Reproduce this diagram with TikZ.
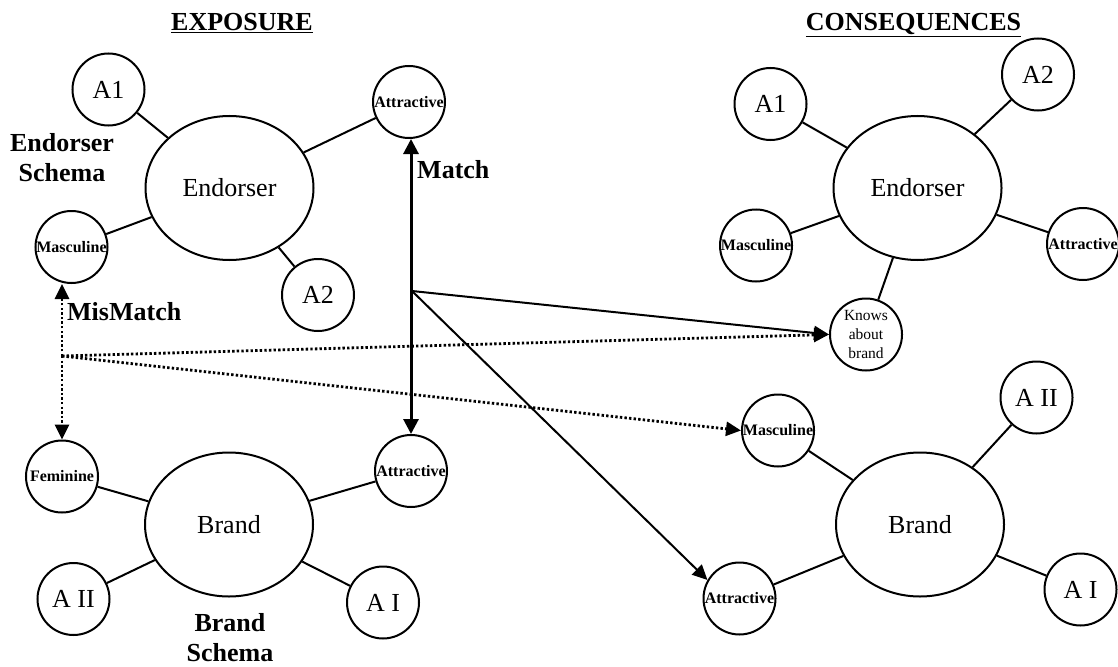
\documentclass[tikz,border=0pt]{standalone}
\usepackage{fontspec}
\setmainfont{Liberation Serif}
\usetikzlibrary{shapes.geometric,arrows.meta}
\begin{document}
\begin{tikzpicture}[x=1pt,y=-1pt,
  sat/.style={circle, draw, line width=2pt, minimum size=72pt, inner sep=0pt, font=\fontsize{26}{30}\selectfont},
  satsmall/.style={sat, font=\bfseries\fontsize{16}{18}\selectfont},
  knowsbox/.style={sat, align=center, font=\fontsize{15.5}{19}\selectfont},
  hub/.style={ellipse, draw, line width=2pt, minimum width=168pt, minimum height=144pt, inner sep=0pt, font=\fontsize{26}{30}\selectfont},
  link/.style={line width=2pt},
  tip/.style={-{Triangle[length=15pt,width=14pt]}},
  matcharrow/.style={line width=3pt, {Triangle[length=15pt,width=15pt]}-{Triangle[length=15pt,width=15pt]}},
  solidarrow/.style={line width=2pt, tip},
  dotarrow/.style={line width=2.8pt, dash pattern=on 2.4pt off 2.2pt, tip},
  heading/.style={font=\bfseries\fontsize{26}{30}\selectfont, anchor=base},
  schema/.style={font=\bfseries\fontsize{26}{30}\selectfont, align=center}
]
\useasboundingbox (0,0) rectangle (1118,666);

% titles
\node[heading] (t1) at (242,31) {\underline{EXPOSURE}};
\node[heading] (t2) at (913.5,31) {\underline{CONSEQUENCES}};

% left endorser schema
\node[hub] (end1) at (229.5,188) {Endorser};
\node[sat] (a1L) at (108.5,89.5) {A1};
\node[satsmall] (att1) at (409,102) {Attractive};
\node[satsmall] (masc1) at (71.5,247) {Masculine};
\node[sat] (a2L) at (318,295) {A2};
\draw[link] (end1) -- (a1L);
\draw[link] (end1) -- (att1);
\draw[link] (end1) -- (masc1);
\draw[link] (end1) -- (a2L);

% left brand schema
\node[hub] (brand1) at (229,524.5) {Brand};
\node[satsmall] (fem) at (62,476.5) {Feminine};
\node[satsmall] (att2) at (411,471) {Attractive};
\node[sat] (aiiL) at (73.5,599) {A II};
\node[sat] (aiL) at (383,602.5) {A I};
\draw[link] (brand1) -- (fem);
\draw[link] (brand1) -- (att2);
\draw[link] (brand1) -- (aiiL);
\draw[link] (brand1) -- (aiL);

% labels
\node[schema] (es) at (62,158) {Endorser\\Schema};
\node[schema] (bs) at (230,638) {Brand\\Schema};
\node[font=\bfseries\fontsize{26}{30}\selectfont, anchor=base west, inner sep=0pt] (match) at (417,178) {Match};
\node[font=\bfseries\fontsize{26}{30}\selectfont, anchor=base west, inner sep=0pt] (mism) at (67,320) {MisMatch};

% right endorser
\node[hub] (end2) at (917.5,188) {Endorser};
\node[sat] (a1R) at (770.5,104) {A1};
\node[sat] (a2R) at (1038,74.5) {A2};
\node[satsmall] (masc2) at (756,245.5) {Masculine};
\node[satsmall] (att4) at (1083,244) {Attractive};
\node[knowsbox] (knows) at (866,334.5) {Knows\\about\\brand};
\draw[link] (end2) -- (a1R);
\draw[link] (end2) -- (a2R);
\draw[link] (end2) -- (masc2);
\draw[link] (end2) -- (att4);
\draw[link] (end2) -- (knows);

% right brand
\node[hub] (brand2) at (920,524.5) {Brand};
\node[satsmall] (masc3) at (778,430.5) {Masculine};
\node[sat] (aiiR) at (1036.5,397.5) {A II};
\node[sat] (aiR) at (1080.5,589.5) {A I};
\node[satsmall] (att3) at (739.5,598.5) {Attractive};
\draw[link] (brand2) -- (masc3);
\draw[link] (brand2) -- (aiiR);
\draw[link] (brand2) -- (aiR);
\draw[link] (brand2) -- (att3);

% match arrow
\coordinate (mtop) at (411,139);
\draw[matcharrow] (mtop) -- (att2.north);
\coordinate (mp) at (412,291);
\draw[solidarrow] (mp) -- (knows.west);
\draw[solidarrow] (mp) -- (att3.150);

% mismatch arrows
\coordinate (mm) at (62,356);
\coordinate (mmtop) at (62,284);
\draw[dotarrow] (mm) -- (mmtop);
\draw[dotarrow] (mm) -- (fem.north);
\draw[dotarrow] (mm) -- (knows.west);
\draw[dotarrow] (mm) -- (masc3.west);
\end{tikzpicture}
\end{document}
